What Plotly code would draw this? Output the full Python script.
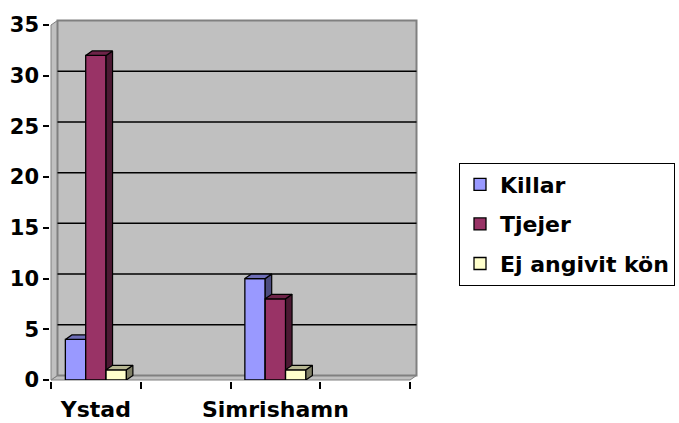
import plotly.graph_objects as go

# ---------------- data ----------------
categories = ["Ystad", "", "Simrishamn", ""]
series_names = ["Killar", "Tjejer", "Ej angivit kön"]
killar = [4, None, 10, None]
tjejer = [32, None, 8, None]
ej_angivit = [1, None, 1, None]
y_ticks = [0, 5, 10, 15, 20, 25, 30, 35]

series_values = [killar, tjejer, ej_angivit]
front_colors = ["#9999FF", "#993366", "#FFFFCC"]

# ---------------- layout constants ----------------
W, H = 679, 423
ML, MR, MT, MB = 51, 269, 25, 43
PW, PH = W - ML - MR, H - MT - MB
X_RANGE = [-0.5, len(categories) - 0.5]
Y_RANGE = [0, 35]
DEPTH_X_PX, DEPTH_Y_PX = 6.5, 4.5
dx = DEPTH_X_PX * (X_RANGE[1] - X_RANGE[0]) / PW
dy = DEPTH_Y_PX * (Y_RANGE[1] - Y_RANGE[0]) / PH
DXd, DYd = DEPTH_X_PX / PW, DEPTH_Y_PX / PH
BARGAP = 0.32
FONT = "DejaVu Sans"


def shade(hexcol, f):
    r, g, b = (int(hexcol[i:i + 2], 16) for i in (1, 3, 5))
    return "#%02x%02x%02x" % (int(r * f), int(g * f), int(b * f))


fig = go.Figure()
x_pos = list(range(len(categories)))
n = len(series_values)
w = (1 - BARGAP) / n

for j, (name, vals, col) in enumerate(zip(series_names, series_values, front_colors)):
    off = -(1 - BARGAP) / 2 + j * w
    fig.add_trace(go.Bar(
        x=x_pos, y=vals, width=w, offset=off, name=name, legendgroup=name,
        marker=dict(color=col, line=dict(color="black", width=1.3)),
        zorder=j + 1, hoverinfo="skip"))
    top_x, top_y, side_x, side_y = [], [], [], []
    for i, v in zip(x_pos, vals):
        if v is None:
            continue
        L = i + off
        R = L + w
        top_x += [L, R, R + dx, L + dx, L, None]
        top_y += [v, v, v + dy, v + dy, v, None]
        side_x += [R, R, R + dx, R + dx, R, None]
        side_y += [0, v, v + dy, dy, 0, None]
    fig.add_trace(go.Scatter(
        x=side_x, y=side_y, mode="lines", fill="toself",
        fillcolor=shade(col, 0.5), line=dict(color="black", width=1.2),
        showlegend=False, hoverinfo="skip", zorder=j + 1, legendgroup=name))
    fig.add_trace(go.Scatter(
        x=top_x, y=top_y, mode="lines", fill="toself",
        fillcolor=shade(col, 0.72), line=dict(color="black", width=1.2),
        showlegend=False, hoverinfo="skip", zorder=j + 1, legendgroup=name))

wall = "#C0C0C0"
wall_line = "#808080"
shapes = [
    # floor
    dict(type="path", xref="x domain", yref="y domain", layer="below",
         path=f"M0,0 L1,0 L{1 + DXd},{DYd} L{DXd},{DYd} Z",
         fillcolor=wall, line=dict(color=wall_line, width=1)),
    # side wall
    dict(type="path", xref="x domain", yref="y domain", layer="below",
         path=f"M0,0 L0,1 L{DXd},{1 + DYd} L{DXd},{DYd} Z",
         fillcolor=wall, line=dict(color=wall_line, width=1)),
    # back wall
    dict(type="rect", xref="x domain", yref="y domain", layer="below",
         x0=DXd, x1=1 + DXd, y0=DYd, y1=1 + DYd,
         fillcolor=wall, line=dict(color=wall_line, width=2)),
]
for t in y_ticks[1:-1]:
    shapes.append(dict(type="line", xref="x domain", yref="y", layer="below",
                       x0=DXd, x1=1 + DXd, y0=t + dy, y1=t + dy,
                       line=dict(color="black", width=1.5)))

fig.update_layout(
    width=W, height=H, margin=dict(l=ML, r=MR, t=MT, b=MB, autoexpand=False),
    paper_bgcolor="white", plot_bgcolor="rgba(0,0,0,0)",
    barmode="overlay", shapes=shapes,
    font=dict(family=FONT, color="black"),
    xaxis=dict(range=X_RANGE, tickmode="array", tickvals=x_pos, ticktext=categories,
               ticks="", showgrid=False, zeroline=False, showline=True, automargin=False,
               linecolor="black", linewidth=1.5, ticklabelstandoff=9,
               tickfont=dict(family=FONT, size=22, weight="bold", color="black"),
               minor=dict(tickmode="array", tickvals=[i - 0.5 for i in range(len(categories) + 1)],
                          ticks="outside", ticklen=7, tickwidth=1.5, tickcolor="black",
                          showgrid=False)),
    yaxis=dict(range=Y_RANGE, tickmode="array", tickvals=y_ticks, automargin=False,
               ticks="outside", ticklen=6, tickwidth=1.5, tickcolor="black",
               showgrid=False, zeroline=False, showline=True,
               linecolor="black", linewidth=1.5,
               tickfont=dict(family=FONT, size=21, weight="bold", color="black")),
    legend=dict(x=(459 - ML) / PW, xanchor="left", y=(H - MB - 224) / PH, yanchor="middle",
                bordercolor="black", borderwidth=1, bgcolor="white",
                tracegroupgap=8, traceorder="grouped",
                font=dict(family=FONT, size=22, weight="bold", color="black")),
    showlegend=True,
)

fig.write_html("out.html", config={"displayModeBar": False},
               post_script="document.body.style.margin='0';")
